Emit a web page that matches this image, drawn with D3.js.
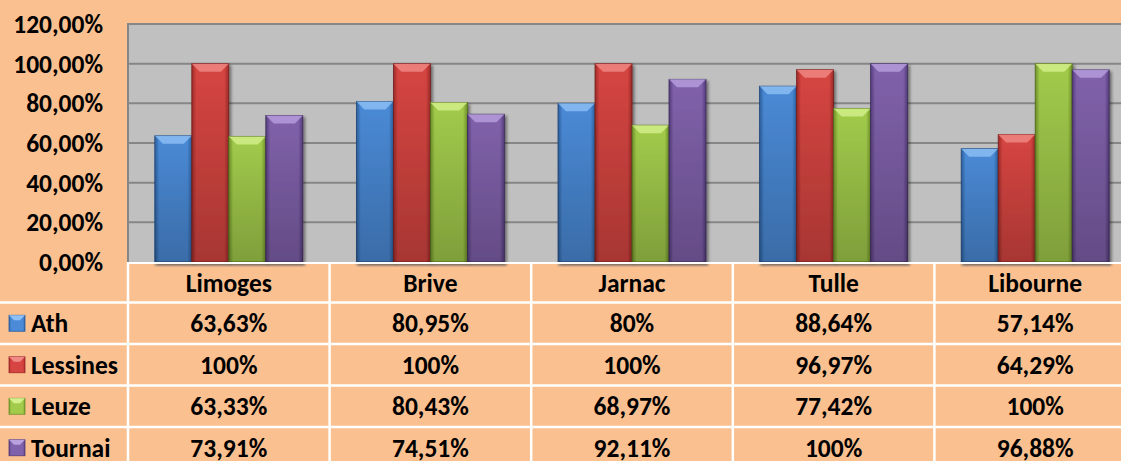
<!DOCTYPE html>
<html>
<head>
<meta charset="utf-8">
<script src="https://cdn.jsdelivr.net/npm/d3@7"></script>
<style>
  body { margin: 0; background: #fac090; }
  svg { display: block; font-family: Carlito, Lato, 'Open Sans', sans-serif; font-weight: bold; }
</style>
</head>
<body>
<svg id="chart" width="1121" height="461"></svg>
<script>
const categories = ['Limoges', 'Brive', 'Jarnac', 'Tulle', 'Libourne'];
const seriesNames = ['Ath', 'Lessines', 'Leuze', 'Tournai'];
const ath = [63.63, 80.95, 80, 88.64, 57.14];
const lessines = [100, 100, 100, 96.97, 64.29];
const leuze = [63.33, 80.43, 68.97, 77.42, 100];
const tournai = [73.91, 74.51, 92.11, 100, 96.88];
const yTicks = [0, 20, 40, 60, 80, 100, 120];

const values = [ath, lessines, leuze, tournai];
const colors = {
  Ath: ['#2c5f9e', '#4a8ad6', '#8fc0f5'],
  Lessines: ['#9e2a28', '#d64541', '#f08a86'],
  Leuze: ['#6f9128', '#a2cb4b', '#d4f08c'],
  Tournai: ['#553c7c', '#8061ab', '#b9a0de']
};

const svg = d3.select('#chart');
const width = +svg.attr('width'), height = +svg.attr('height');
const plotLeft = 128, plotTop = 24, plotBottom = 262, colW = 201.6;
const rowH = 41.5;
const fs = 25.5;

const x = d3.scaleBand().domain(categories).range([plotLeft, plotLeft + colW * categories.length]);
const x1 = d3.scaleBand().domain(seriesNames).range([0, 148]);
const y = d3.scaleLinear().domain([0, 120]).range([plotBottom, plotTop]);

const defs = svg.append('defs');
seriesNames.forEach((s) => {
  let g = defs.append('linearGradient').attr('id', 'g-' + s).attr('x1', 0).attr('x2', 1);
  g.append('stop').attr('offset', 0).attr('stop-color', colors[s][0]);
  g.append('stop').attr('offset', 0.12).attr('stop-color', colors[s][1]);
  g.append('stop').attr('offset', 0.88).attr('stop-color', colors[s][1]);
  g.append('stop').attr('offset', 1).attr('stop-color', colors[s][0]);
});
let vg = defs.append('linearGradient').attr('id', 'shade').attr('x1', 0).attr('x2', 0).attr('y1', 0).attr('y2', 1);
vg.append('stop').attr('offset', 0).attr('stop-color', '#000').attr('stop-opacity', 0);
vg.append('stop').attr('offset', 1).attr('stop-color', '#000').attr('stop-opacity', 0.22);
let sh = defs.append('filter').attr('id', 'shadow').attr('x', -0.2).attr('y', -0.2).attr('width', 1.5).attr('height', 1.5);
sh.append('feDropShadow').attr('dx', 2).attr('dy', 2).attr('stdDeviation', 1.5).attr('flood-opacity', 0.45);
let blur = defs.append('filter').attr('id', 'blur');
blur.append('feGaussianBlur').attr('stdDeviation', 1.2);

// background + plot area
svg.append('rect').attr('width', width).attr('height', height).attr('fill', '#fac090');
svg.append('rect').attr('x', plotLeft).attr('y', plotTop).attr('width', width - plotLeft + 20).attr('height', plotBottom - plotTop)
  .attr('fill', '#c0c0c0');

svg.append('g').selectAll('line').data(yTicks.slice(1)).enter().append('line')
  .attr('x1', plotLeft).attr('x2', width)
  .attr('y1', (d) => y(d)).attr('y2', (d) => y(d))
  .attr('stroke', '#868686').attr('stroke-width', 2);
svg.append('line').attr('x1', plotLeft).attr('x2', plotLeft).attr('y1', plotTop - 1).attr('y2', plotBottom)
  .attr('stroke', '#868686').attr('stroke-width', 2);

// y axis labels
svg.append('g').selectAll('text').data(yTicks).enter().append('text')
  .attr('x', 103).attr('y', (d) => y(d) + 9)
  .attr('text-anchor', 'end').attr('font-size', fs).attr('fill', '#000')
  .text((d) => d3.format('.2f')(d).replace('.', ',') + '%');

// bars
const groups = svg.append('g').selectAll('g').data(categories).enter().append('g')
  .attr('transform', (d) => 'translate(' + (x(d) + (colW - 148) / 2) + ',0)');

// soft shadow under each group, below the axis
groups.append('rect')
  .attr('x', 0).attr('y', plotBottom + 1).attr('width', 150).attr('height', 3)
  .attr('fill', '#777').attr('opacity', 0.6).attr('filter', 'url(#blur)');

const bar = groups.selectAll('g').data((c, ci) => seriesNames.map((s, si) => ({ s: s, v: values[si][ci] })))
  .enter().append('g').attr('filter', 'url(#shadow)');

bar.append('rect')
  .attr('x', (d) => x1(d.s)).attr('y', (d) => y(d.v))
  .attr('width', x1.bandwidth()).attr('height', (d) => plotBottom - y(d.v))
  .attr('fill', (d) => 'url(#g-' + d.s + ')')
  .attr('stroke', (d) => d3.color(colors[d.s][0]).darker(0.8)).attr('stroke-width', 0.8);

bar.append('rect')
  .attr('x', (d) => x1(d.s)).attr('y', (d) => y(d.v))
  .attr('width', x1.bandwidth()).attr('height', (d) => plotBottom - y(d.v))
  .attr('fill', 'url(#shade)');

bar.append('path')
  .attr('d', (d) => {
    let x0 = x1(d.s), w = x1.bandwidth(), y0 = y(d.v), b = 8;
    return 'M' + x0 + ',' + y0 + 'L' + (x0 + w) + ',' + y0 + 'L' + (x0 + w - b) + ',' + (y0 + b) +
      'L' + (x0 + b) + ',' + (y0 + b) + 'Z';
  })
  .attr('fill', (d) => colors[d.s][2]).attr('opacity', 0.8);

// data table
const table = svg.append('g');
const rowsTop = plotBottom + rowH - 1;
table.append('line').attr('x1', plotLeft).attr('x2', width).attr('y1', plotBottom + 1).attr('y2', plotBottom + 1)
  .attr('stroke', '#fff').attr('stroke-width', 2);
seriesNames.forEach((s, i) => {
  table.append('line').attr('x1', 0).attr('x2', width)
    .attr('y1', rowsTop + i * rowH).attr('y2', rowsTop + i * rowH)
    .attr('stroke', '#fff').attr('stroke-width', 2.5);
});
categories.map((c) => x(c)).forEach((xx) => {
  table.append('line').attr('x1', xx).attr('x2', xx)
    .attr('y1', plotBottom).attr('y2', height)
    .attr('stroke', '#fff').attr('stroke-width', 2.5);
});

table.selectAll('text.cat').data(categories).enter().append('text')
  .attr('class', 'cat')
  .attr('x', (d) => x(d) + colW / 2).attr('y', plotBottom + rowH / 2 + 9)
  .attr('text-anchor', 'middle').attr('font-size', fs).text((d) => d);

seriesNames.forEach((s, si) => {
  let cy = rowsTop + si * rowH + rowH / 2;
  table.append('rect').attr('x', 9).attr('y', cy - 8).attr('width', 16).attr('height', 16)
    .attr('fill', 'url(#g-' + s + ')').attr('stroke', colors[s][0]).attr('stroke-width', 0.8);
  table.append('path')
    .attr('d', 'M9,' + (cy - 8) + 'L25,' + (cy - 8) + 'L20,' + (cy - 3) + 'L14,' + (cy - 3) + 'Z')
    .attr('fill', colors[s][2]);
  table.append('text').attr('x', 31).attr('y', cy + 9).attr('font-size', fs).text(s);
  table.selectAll(null).data(values[si]).enter().append('text')
    .attr('x', (d, ci) => x(categories[ci]) + colW / 2).attr('y', cy + 9)
    .attr('text-anchor', 'middle').attr('font-size', fs)
    .text((d) => String(d).replace('.', ',') + '%');
});
</script>
</body>
</html>
